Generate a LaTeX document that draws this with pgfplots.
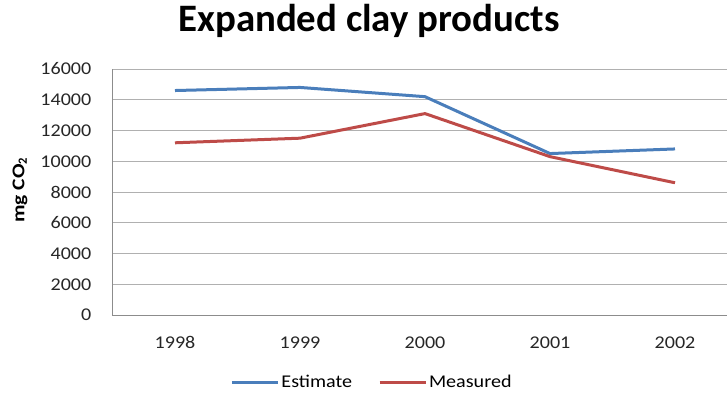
\documentclass[border=0pt]{standalone}
\usepackage{fontspec}
\setmainfont{Carlito}
\newfontfamily\chartfont{Carlito}[FakeStretch=1.12]
\newfontfamily\labelfont{Carlito}[FakeStretch=1.2]
\usepackage{pgfplots}
\pgfplotsset{compat=1.18}
\definecolor{estblue}{HTML}{4A7EBB}
\definecolor{measred}{HTML}{BE4B48}
\definecolor{gridgray}{HTML}{B0B0B0}
\definecolor{axisgray}{HTML}{8C8C8C}
\begin{document}
\begin{tikzpicture}
\useasboundingbox (-112.5bp,-79bp) rectangle (614.5bp,315bp);
\begin{axis}[
  scale only axis,
  width=614.5bp, height=246bp,
  xmin=-0.5, xmax=4.416,
  ymin=0, ymax=16000,
  xtick={0,1,2,3,4},
  xticklabels={1998,1999,2000,2001,2002},
  ytick={0,2000,...,16000},
  /pgf/number format/assume math mode=true,
  /pgf/number format/1000 sep={},
  scaled y ticks=false,
  major tick length=0pt,
  axis x line*=bottom, axis y line*=left,
  axis line style={axisgray, line width=0.8bp, -},
  ymajorgrids, major grid style={gridgray, line width=0.8bp},
  tick label style={font=\chartfont\fontsize{18}{20}\selectfont, text=black!85},
  yticklabel style={anchor=east, inner sep=0pt, xshift=-21bp},
  xticklabel style={anchor=base, inner sep=0pt, yshift=-33bp},
  title={\bfseries Expanded clay products},
  title style={at={(0.4174,1.130)}, anchor=base, inner sep=0pt,
    font=\fontsize{39}{43}\selectfont},
  ylabel={\textbf{mg CO$_{\mathbf 2}$}},
  ylabel style={at={(axis description cs:-0.1505,0.508)}, anchor=center,
    inner sep=0pt, font=\labelfont\fontsize{18}{20}\selectfont},
  legend columns=2,
  legend style={at={(0.4223,-0.2724)}, anchor=center, draw=none, fill=none,
    font=\chartfont\fontsize{18}{20}\selectfont,
    /tikz/every even column/.append style={column sep=24bp}},
  legend image code/.code={\draw[#1] (0bp,0bp) -- (46bp,0bp);},
  every axis plot/.append style={line width=3bp, line join=round},
]
\addplot[estblue] coordinates {(0,14600) (1,14800) (2,14200) (3,10500) (4,10800)};
\addplot[measred] coordinates {(0,11200) (1,11500) (2,13100) (3,10300) (4,8600)};
\legend{Estimate, Measured}
\end{axis}
\end{tikzpicture}
\end{document}
